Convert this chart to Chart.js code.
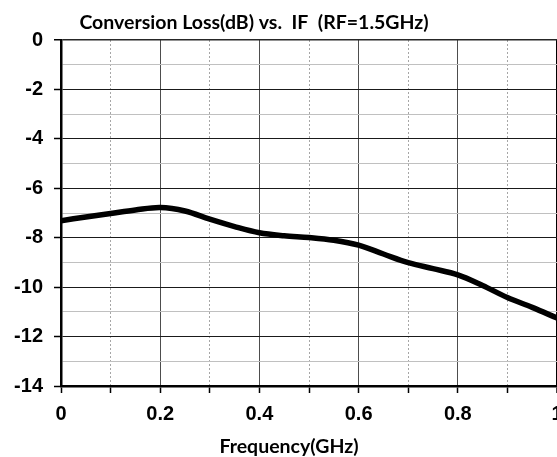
<!DOCTYPE html>
<html>
<head>
<meta charset="utf-8">
<script src="https://cdn.jsdelivr.net/npm/chart.js@4.4.1/dist/chart.umd.min.js"></script>
<style>
  html, body { margin: 0; padding: 0; background: #fff; overflow: hidden; }
  #wrap { position: relative; width: 580px; height: 457px; }
</style>
</head>
<body>
<div id="wrap"><canvas id="c" width="580" height="457"></canvas></div>
<script>
const chartTitle = 'Conversion Loss(dB) vs.  IF  (RF=1.5GHz)';
const xTitle = 'Frequency(GHz)';

// IF frequency (GHz) and conversion loss (dB)
const freqGHz = [0, 0.05, 0.1, 0.15, 0.2, 0.25, 0.3, 0.35, 0.4, 0.45, 0.5,
                 0.55, 0.6, 0.65, 0.7, 0.75, 0.8, 0.85, 0.9, 0.95, 1.0];
const lossDb = [-7.31, -7.16, -7.02, -6.88, -6.78, -6.92, -7.25, -7.55, -7.80, -7.92, -7.99,
                -8.10, -8.30, -8.66, -9.01, -9.25, -9.50, -9.93, -10.42, -10.82, -11.25];

const xMin = 0, xMax = 1, xStep = 0.1;
const yMin = -14, yMax = 0, yStep = 1;

const tickFont = { family: 'Liberation Sans', weight: 'bold', size: 20 };

const isOddX = v => Math.round(v * 10) % 2 !== 0;
const isOddY = v => Math.round(v) % 2 !== 0;

const titlesPlugin = {
    id: 'fixedTitles',
    afterDraw(chart) {
        const ctx = chart.ctx;
        const a = chart.chartArea;
        ctx.save();
        ctx.fillStyle = '#000';
        ctx.font = 'bold 19.5px Lato';
        ctx.textAlign = 'center';
        ctx.textBaseline = 'alphabetic';
        ctx.fillText(chartTitle, a.left + 193, a.top - 11);
        ctx.fillText(xTitle, a.left + 228, a.bottom + 67);
        ctx.restore();
    },
};

new Chart(document.getElementById('c').getContext('2d'), {
    type: 'line',
    data: {
        datasets: [{
            label: 'Conversion Loss',
            data: freqGHz.map((f, i) => ({ x: f, y: lossDb[i] })),
            borderColor: '#000',
            borderWidth: 5.5,
            pointRadius: 0,
            fill: false,
            tension: 0.35,
        }],
    },
    options: {
        responsive: false,
        animation: false,
        devicePixelRatio: 1,
        layout: { padding: { top: 40, right: 23, left: 0, bottom: 0 } },
        plugins: { legend: { display: false }, tooltip: { enabled: false } },
        scales: {
            x: {
                type: 'linear',
                min: xMin,
                max: xMax,
                afterFit: s => { s.height = 71; },
                ticks: {
                    stepSize: xStep,
                    autoSkip: false,
                    maxRotation: 0,
                    padding: 9,
                    color: '#000',
                    font: tickFont,
                    callback: v => {
                        const k = Math.round(v * 10);
                        if (k % 2) return '';
                        return k === 0 ? '0' : k === 10 ? '1' : (k / 10).toFixed(1);
                    },
                },
                grid: {
                    color: c => {
                        const k = Math.round(c.tick.value * 10);
                        if (k === 10) return '#000';
                        return k % 2 ? '#a6a6a6' : '#4d4d4d';
                    },
                    lineWidth: c => Math.round(c.tick.value * 10) === 10 ? 2 : 1,
                    tickColor: '#000',
                    tickLength: 7,
                    tickWidth: 1.5,
                    tickBorderDash: [],
                },
                border: {
                    color: '#000',
                    width: 2.5,
                    dash: c => (c.tick && isOddX(c.tick.value)) ? [2, 2] : [],
                },
            },
            y: {
                min: yMin,
                max: yMax,
                afterFit: s => { s.width = 61; },
                ticks: {
                    stepSize: yStep,
                    autoSkip: false,
                    padding: 11,
                    color: '#000',
                    font: tickFont,
                    callback: v => isOddY(v) ? '' : String(Math.round(v)),
                },
                grid: {
                    color: c => {
                        const v = Math.round(c.tick.value);
                        if (v === 0) return '#262626';
                        return v % 2 ? '#c0c0c0' : '#1a1a1a';
                    },
                    lineWidth: c => Math.round(c.tick.value) === 0 ? 1.5 : 1,
                    tickColor: c => isOddY(c.tick.value) ? 'rgba(0,0,0,0)' : '#000',
                    tickLength: 7,
                    tickWidth: 1.5,
                },
                border: { color: '#000', width: 2.5 },
            },
        },
    },
    plugins: [titlesPlugin],
});
</script>
</body>
</html>
